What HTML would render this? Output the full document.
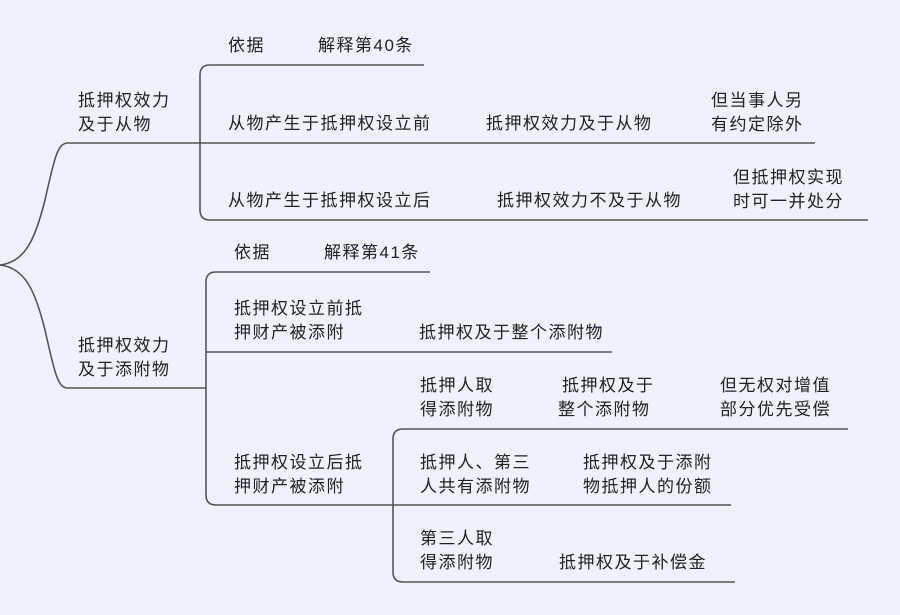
<!DOCTYPE html>
<html><head><meta charset="utf-8"><style>
html,body{margin:0;padding:0;background:#edf2fd;}
svg{display:block}
text{font-family:"Liberation Sans","Noto Sans CJK SC",sans-serif;font-size:17px;fill:#222;letter-spacing:1.5px}
</style></head><body>
<svg width="900" height="615" viewBox="0 0 900 615" xmlns="http://www.w3.org/2000/svg">
<rect width="900" height="615" fill="#edf2fd"/>
<g fill="none" stroke="#555" stroke-width="1.6">
<path d="M0,265 C25,262 35,240 45,200 C55,155 58,143 68,143 L200,143"/>
<path d="M0,265 C25,268 35,290 45,330 C55,375 58,388 68,388 L206,388"/>
<path d="M424,65 L210,65 Q200,65 200,75 L200,210 Q200,220 210,220 L868,220"/>
<path d="M200,143 L815,143"/>
<path d="M430,272 L216,272 Q206,272 206,282 L206,495 Q206,505 216,505 L731,505"/>
<path d="M206,352 L612,352"/>
<path d="M848,429 L403,429 Q393,429 393,439 L393,572 Q393,582 403,582 L735,582"/>
</g>
<text x="78" y="106">抵押权效力</text>
<text x="78" y="130">及于从物</text>
<text x="228" y="51">依据</text>
<text x="318" y="51">解释第40条</text>
<text x="228" y="129">从物产生于抵押权设立前</text>
<text x="486" y="129">抵押权效力及于从物</text>
<text x="711" y="106">但当事人另</text>
<text x="711" y="130">有约定除外</text>
<text x="228" y="206">从物产生于抵押权设立后</text>
<text x="497" y="206">抵押权效力不及于从物</text>
<text x="733" y="183">但抵押权实现</text>
<text x="733" y="207">时可一并处分</text>
<text x="234" y="258">依据</text>
<text x="324" y="258">解释第41条</text>
<text x="78" y="351">抵押权效力</text>
<text x="78" y="375">及于添附物</text>
<text x="234" y="314">抵押权设立前抵</text>
<text x="234" y="338">押财产被添附</text>
<text x="419" y="338">抵押权及于整个添附物</text>
<text x="234" y="468">抵押权设立后抵</text>
<text x="234" y="492">押财产被添附</text>
<text x="420" y="391">抵押人取</text>
<text x="420" y="415">得添附物</text>
<text x="562" y="391">抵押权及于</text>
<text x="558" y="415">整个添附物</text>
<text x="720" y="391">但无权对增值</text>
<text x="720" y="415">部分优先受偿</text>
<text x="420" y="468">抵押人、第三</text>
<text x="420" y="492">人共有添附物</text>
<text x="583" y="468">抵押权及于添附</text>
<text x="583" y="492">物抵押人的份额</text>
<text x="420" y="544">第三人取</text>
<text x="420" y="568">得添附物</text>
<text x="559" y="568">抵押权及于补偿金</text>
</svg>
</body></html>
